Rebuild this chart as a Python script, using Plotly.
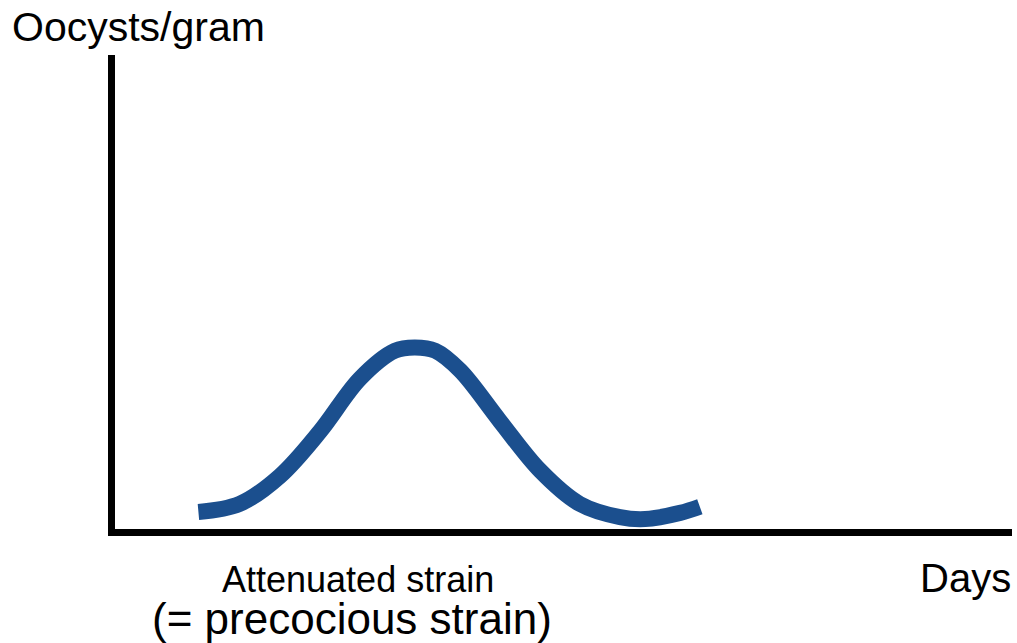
import plotly.graph_objects as go

# Curve data (days vs oocysts/gram, arbitrary units)
days = [0.93, 1.39, 1.84, 2.29, 2.73, 3.12, 3.34, 3.57, 3.85, 4.29, 4.74, 5.18, 5.63, 5.91, 6.30, 6.52]
oocysts = [0.36, 0.53, 1.12, 2.07, 3.17, 3.76, 3.83, 3.76, 3.34, 2.28, 1.23, 0.53, 0.25, 0.21, 0.34, 0.47]

y_title = "Oocysts/gram"
x_title = "Days"
strain_label = "Attenuated strain"
strain_sub = "(= precocious strain)"

W, H = 1017, 643
L, R, T, B = 115, 5, 55, 114
PW, PH = W - L - R, H - T - B


def px(x):
    return (x - L) / PW


def py(y):
    return (H - B - y) / PH


fig = go.Figure()
fig.add_trace(go.Scatter(
    x=days, y=oocysts, mode="lines",
    line=dict(color="#1b4f8e", width=16, shape="spline", smoothing=1.0),
    hoverinfo="skip", showlegend=False,
))

font = "Liberation Sans, Arial, sans-serif"
fig.update_layout(
    width=W, height=H,
    margin=dict(l=L, r=R, t=T, b=B),
    paper_bgcolor="white", plot_bgcolor="white",
    xaxis=dict(range=[0, 10], showgrid=False, zeroline=False, showticklabels=False,
               ticks="", showline=True, linecolor="black", linewidth=7),
    yaxis=dict(range=[0, 10], showgrid=False, zeroline=False, showticklabels=False,
               ticks="", showline=True, linecolor="black", linewidth=7),
    annotations=[
        dict(text=y_title, xref="paper", yref="paper", x=px(10), y=py(27),
             xanchor="left", yanchor="middle", showarrow=False,
             font=dict(family=font, size=41, color="black")),
        dict(text=x_title, xref="paper", yref="paper", x=px(1013), y=py(578),
             xanchor="right", yanchor="middle", showarrow=False,
             font=dict(family=font, size=40, color="black")),
        dict(text=strain_label, xref="paper", yref="paper", x=px(358), y=py(579),
             xanchor="center", yanchor="middle", showarrow=False,
             font=dict(family=font, size=36, color="black")),
        dict(text=strain_sub, xref="paper", yref="paper", x=px(352), y=py(618),
             xanchor="center", yanchor="middle", showarrow=False,
             font=dict(family=font, size=44, color="black")),
    ],
)
fig.write_html("out.html", config={"displayModeBar": False},
               post_script="document.body.style.margin='0px';")
